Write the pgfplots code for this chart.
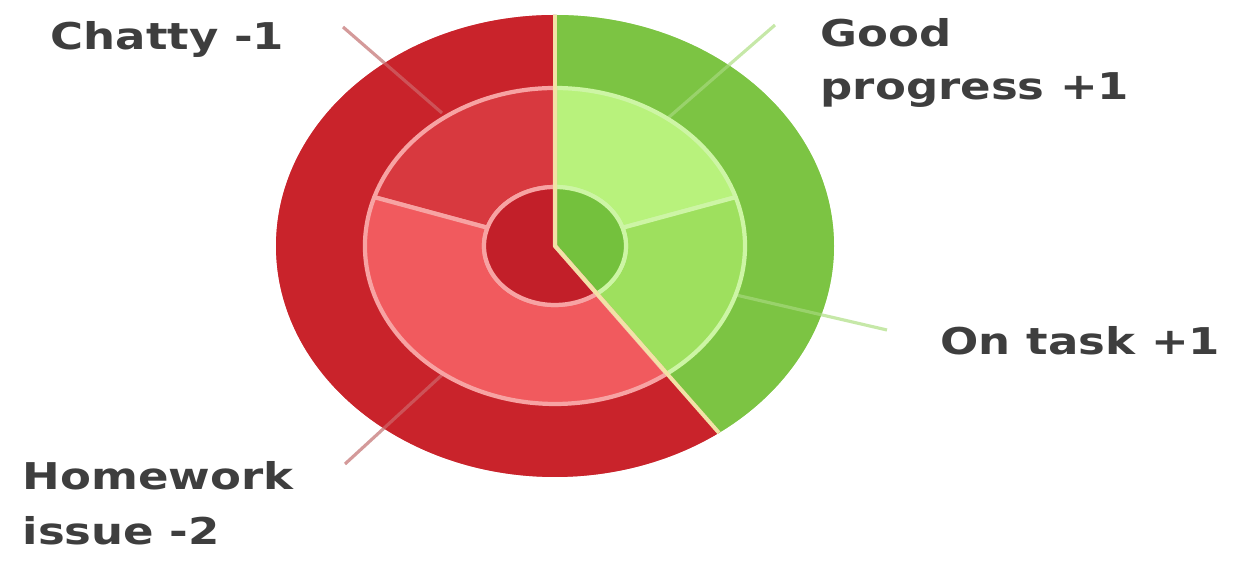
\documentclass[border=0pt]{standalone}
\usepackage{pgfplots}
\usepackage{pgfplotstable}
\pgfplotsset{compat=1.18}
\usepackage{fontspec}
\setmainfont{DejaVu Sans}[FakeStretch=1.22]
\definecolor{outred}{HTML}{C9232B}
\definecolor{outgreen}{HTML}{7CC443}
\definecolor{chatty}{HTML}{D8393F}
\definecolor{homework}{HTML}{F15A5E}
\definecolor{goodprog}{HTML}{B8F27C}
\definecolor{ontask}{HTML}{9EE05E}
\definecolor{inred}{HTML}{C21F29}
\definecolor{ingreen}{HTML}{74C13D}
\definecolor{redline}{HTML}{F7A3A3}
\definecolor{greenline}{HTML}{CDF5A5}
\definecolor{divline}{HTML}{F2E2A6}
\definecolor{labtext}{HTML}{3E3E3E}
\definecolor{redlead}{HTML}{D49A9A}
\definecolor{greenlead}{HTML}{C6E8A8}

% segment values (absolute scores)
\pgfplotstableread{
seg value
Good 1
OnTask 1
Chatty 1
Homework 2
}\segs
\pgfplotstablegetelem{0}{value}\of\segs \edef\vGood{\pgfplotsretval}
\pgfplotstablegetelem{1}{value}\of\segs \edef\vOn{\pgfplotsretval}
\pgfplotstablegetelem{2}{value}\of\segs \edef\vCh{\pgfplotsretval}
\pgfplotstablegetelem{3}{value}\of\segs \edef\vHw{\pgfplotsretval}
\pgfmathsetmacro\tot{\vGood+\vOn+\vCh+\vHw}
\pgfmathsetmacro\unitang{360/\tot}
\pgfmathsetmacro\aGP{90-\vGood*\unitang}
\pgfmathsetmacro\aOT{\aGP-\vOn*\unitang}
\pgfmathsetmacro\aCH{90+\vCh*\unitang}
\pgfmathsetmacro\aHW{\aCH+\vHw*\unitang}

\def\cx{5.55}
\def\cy{3.17}
% ring sector: a1 a2 rxo ryo rxi ryi style
\newcommand\ringseg[7]{%
 \path[#7] (axis cs:{\cx+#3*cos(#1)},{\cy+#4*sin(#1)})
   arc[start angle=#1,end angle=#2,x radius=#3cm,y radius=#4cm]
   -- (axis cs:{\cx+#5*cos(#2)},{\cy+#6*sin(#2)})
   arc[start angle=#2,end angle=#1,x radius=#5cm,y radius=#6cm] -- cycle;}
% pie sector: a1 a2 rx ry style
\newcommand\pieseg[5]{%
 \path[#5] (axis cs:\cx,\cy) -- (axis cs:{\cx+#3*cos(#1)},{\cy+#4*sin(#1)})
   arc[start angle=#1,end angle=#2,x radius=#3cm,y radius=#4cm] -- cycle;}

\begin{document}
\begin{tikzpicture}
\begin{axis}[
  hide axis, x=1cm, y=1cm, scale only axis,
  xmin=0, xmax=12.4, ymin=0, ymax=5.63, clip=false,
]
% outer ring
\ringseg{90}{\aOT}{2.79}{2.31}{1.90}{1.58}{fill=outgreen}
\ringseg{90}{\aHW}{2.79}{2.31}{1.90}{1.58}{fill=outred}
% leader lines
\draw[color=redlead,line width=0.9pt] (axis cs:3.43,5.36) -- (axis cs:4.42,4.50);
\draw[color=redlead,line width=0.9pt] (axis cs:3.45,0.99) -- (axis cs:4.43,1.89);
\draw[color=greenlead,line width=0.9pt] (axis cs:7.75,5.38) -- (axis cs:6.68,4.45);
\draw[color=greenlead,line width=0.9pt] (axis cs:8.87,2.33) -- (axis cs:7.36,2.68);
% fade the leader lines where they cross the outer ring
\ringseg{90}{\aOT}{2.79}{2.31}{1.90}{1.58}{fill=outgreen,fill opacity=0.6}
\ringseg{90}{\aHW}{2.79}{2.31}{1.90}{1.58}{fill=outred,fill opacity=0.6}
% middle ring
\ringseg{90}{\aGP}{1.90}{1.58}{0.71}{0.59}{fill=goodprog,draw=greenline,line width=1.2pt,line join=round}
\ringseg{\aGP}{\aOT}{1.90}{1.58}{0.71}{0.59}{fill=ontask,draw=greenline,line width=1.2pt,line join=round}
\ringseg{90}{\aCH}{1.90}{1.58}{0.71}{0.59}{fill=chatty,draw=redline,line width=1.2pt,line join=round}
\ringseg{\aCH}{\aHW}{1.90}{1.58}{0.71}{0.59}{fill=homework,draw=redline,line width=1.2pt,line join=round}
% inner circle
\pieseg{90}{\aOT}{0.71}{0.59}{fill=ingreen,draw=greenline,line width=1.2pt,line join=round}
\pieseg{90}{\aHW}{0.71}{0.59}{fill=inred,draw=redline,line width=1.2pt,line join=round}
% main divider
\draw[divline,line width=1.1pt] (axis cs:\cx,{\cy+2.31}) -- (axis cs:\cx,\cy)
   -- (axis cs:{\cx+2.79*cos(\aOT)},{\cy+2.31*sin(\aOT)});
% labels
\node[anchor=base west,inner sep=0pt,font=\fontsize{10.5}{14.5}\selectfont\bfseries,text=labtext] at (axis cs:0.50,5.13) {Chatty -1};
\node[anchor=base west,inner sep=0pt,font=\fontsize{10.5}{14.5}\selectfont\bfseries,text=labtext] at (axis cs:8.20,5.16) {Good};
\node[anchor=base west,inner sep=0pt,font=\fontsize{10.5}{14.5}\selectfont\bfseries,text=labtext] at (axis cs:8.20,4.63) {progress +1};
\node[anchor=base west,inner sep=0pt,font=\fontsize{10.5}{14.5}\selectfont\bfseries,text=labtext] at (axis cs:9.40,2.08) {On task +1};
\node[anchor=base west,inner sep=0pt,font=\fontsize{10.5}{14.5}\selectfont\bfseries,text=labtext] at (axis cs:0.22,0.73) {Homework};
\node[anchor=base west,inner sep=0pt,font=\fontsize{10.5}{14.5}\selectfont\bfseries,text=labtext] at (axis cs:0.22,0.18) {issue -2};
\end{axis}
\pgfresetboundingbox
\path (current axis.south west) rectangle (current axis.north east);
\end{tikzpicture}
\end{document}
